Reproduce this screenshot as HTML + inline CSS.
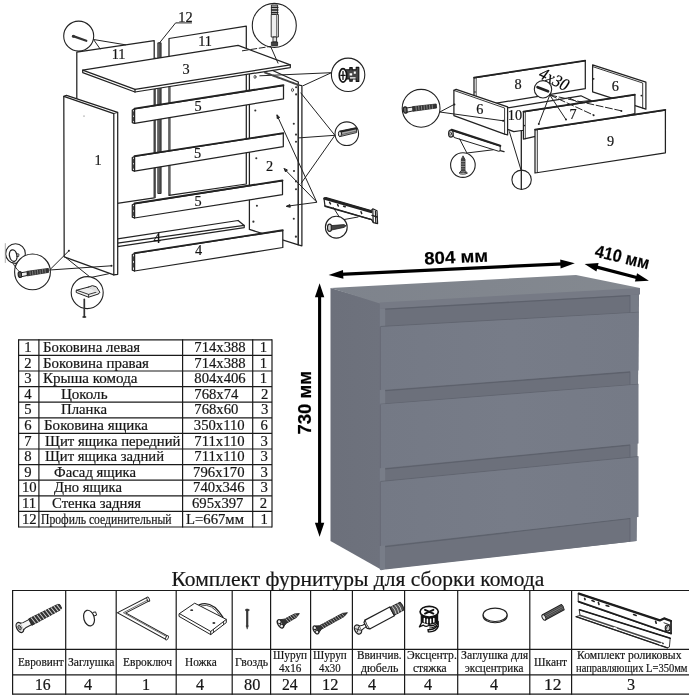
<!DOCTYPE html>
<html><head><meta charset="utf-8">
<style>
html,body{margin:0;padding:0;background:#fff;}
body{width:689px;height:700px;position:relative;overflow:hidden;font-family:"Liberation Serif",serif;color:#151515;}
#art{position:absolute;left:0;top:0;width:689px;height:700px;}
#tx{position:absolute;left:0;top:0;width:689px;height:700px;will-change:transform;transform:translateZ(0);}
.t{position:absolute;white-space:nowrap;line-height:1;transform-origin:0 0;-webkit-text-stroke:0.2px #151515;}
</style></head><body>
<svg id="art" width="689" height="700" viewBox="0 0 689 700">
<g id="ex1" stroke="#222" stroke-width="1.25" fill="#fff" stroke-linejoin="round" stroke-linecap="round">
<!-- back panels 11 -->
<polygon points="76.8,52.1 154.2,40.6 154.2,197.9 76.8,209.4"/>
<line x1="155.4" y1="58" x2="155.4" y2="197.7" stroke-width="0.8"/>
<polygon points="169,38.5 246.3,26.1 246.3,184 169,195.3"/>
<line x1="170.2" y1="62" x2="170.2" y2="195" stroke-width="0.7"/>
<!-- profile 12 -->
<rect x="158.2" y="42.8" width="2.9" height="150.7" fill="#555" stroke-width="0.9"/>
<!-- side panel 2 -->
<polygon points="249.4,60 298.3,82 298.3,244.8 249.4,229.4"/>
<polygon points="298.3,85 301.9,85.6 301.9,245.8 298.3,244.8"/>
<!-- inner plinth 4 -->
<polygon points="117.5,238.8 238.1,220.5 244.2,225.4 244.2,227.6 117.5,246.6"/>
<line x1="117.5" y1="243.1" x2="244.2" y2="225.4"/>
<!-- planks 5 -->
<g>
<polygon points="134.5,109 283.5,85.6 283.5,98.9 134.5,123.3"/>
<polygon points="132.3,110 134.5,109 134.5,123.3 132.3,122.6"/>
<line x1="134.5" y1="108.6" x2="283.5" y2="85.2" stroke-width="1.8"/>
<polygon points="134.5,156.5 283.3,133.5 283.3,146.6 134.5,171.1"/>
<polygon points="132.3,157.5 134.5,156.5 134.5,171.1 132.3,170.3"/>
<line x1="134.5" y1="156.1" x2="283.3" y2="133.1" stroke-width="1.8"/>
<polygon points="134.5,203.8 282.5,180.8 282.5,194.6 134.5,218"/>
<polygon points="132.3,204.8 134.5,203.8 134.5,218 132.3,217.2"/>
<line x1="134.5" y1="203.4" x2="282.5" y2="180.4" stroke-width="1.8"/>
<polygon points="134.5,253.5 282.8,230.6 282.8,247.5 134.5,271"/>
<polygon points="132.3,254.5 134.5,253.5 134.5,271 132.3,270.2"/>
<line x1="134.5" y1="253.1" x2="282.8" y2="230.2" stroke-width="1.8"/>
</g>
<!-- top 3 -->
<polygon points="82.7,70.2 238.1,45.4 290.3,64.9 290.3,67.6 135,92 82.7,72.6"/>
<polyline points="82.7,70.2 135,89.3 290.3,64.9" fill="none"/>
<line x1="135" y1="89.3" x2="135" y2="92"/>
<!-- side panel 1 -->
<polygon points="63.8,96.4 66.5,95.3 117.7,112.4 117.7,274.3 113.8,274.9 64.2,256.8"/>
<polyline points="63.8,96.4 113.8,113.6 113.8,274.9" fill="none"/>
<line x1="113.8" y1="113.6" x2="117.7" y2="112.4" stroke-width="0.8"/>
</g>
<g id="ex1c" stroke="#222" stroke-width="1.0" fill="none" stroke-linecap="round" stroke-linejoin="round">
<!-- nail callout -->
<circle cx="78.7" cy="36.1" r="15" fill="#fff" stroke-width="1.1"/>
<line x1="73.2" y1="36.1" x2="86.3" y2="40.8" stroke-width="2.2" stroke="#333"/>
<circle cx="73.4" cy="36.2" r="1.5" fill="#333" stroke="none"/>
<polyline points="125.5,44.8 93.5,39.5 100.1,48.9"/>
<!-- 12 leader -->
<polyline points="191.5,22.9 175.6,22.9 159.6,42.8"/>
<!-- dowel bolt callout -->
<circle cx="274.3" cy="25.4" r="22" fill="#fff" stroke-width="1.1"/>
<g stroke-width="0.9">
<rect x="271.8" y="5" width="5.8" height="9.5" fill="#bbb"/>
<line x1="271.5" y1="7.4" x2="277.9" y2="7.4" stroke-width="1.3"/>
<line x1="271.5" y1="10" x2="277.9" y2="10" stroke-width="1.3"/>
<line x1="271.5" y1="12.6" x2="277.9" y2="12.6" stroke-width="1.3"/>
<rect x="271.6" y="14.5" width="6.8" height="22.5" fill="#eee"/>
<line x1="276.6" y1="15" x2="276.6" y2="36.5" stroke="#777" stroke-width="1.2"/>
<rect x="273.4" y="37" width="3.2" height="5" fill="#ddd"/>
<rect x="271.8" y="42" width="5.8" height="3.6" fill="#444"/>
</g>
<line x1="242.4" y1="50.8" x2="270.7" y2="46.4" stroke-dasharray="6 2.5"/>
<line x1="270.7" y1="46.6" x2="278" y2="63.1"/>
<!-- eccentric callout -->
<circle cx="348.1" cy="74.8" r="16.7" fill="#fff" stroke-width="1.1"/>
<polyline points="259.8,75.8 331.4,72.7 303.1,85.7"/>
<g stroke-width="0.9">
<path d="M346.2 69.8h3.6v-2.2h2.4v2.2h4v-2.4h2.6v14h-2.6v-2.4h-4v2.2h-2.4v-2.2h-3.6" fill="#444" stroke="#111" stroke-width="1.1"/>
<path d="M349.6 73.2h2.6v2.2h-2.6zM353.8 71.6h2v2.2h-2zM350 77.2h5.6v1.4h-5.6z" fill="#fff" stroke="none"/>
<ellipse cx="343" cy="75.4" rx="3.7" ry="6.7" fill="#fff" stroke="#111" stroke-width="1.7"/>
<path d="M340.9 75.4h4.2M343 71.4v8" stroke="#111" stroke-width="1.3"/>
</g>
<!-- small dowel callout -->
<circle cx="346.8" cy="133.7" r="11.8" fill="#fff" stroke-width="1.1"/>
<polyline points="300.9,93 334.9,135.3 298.7,137.9"/>
<line x1="334.9" y1="135.3" x2="301.3" y2="183.1"/>
<g>
<path d="M340 131 L356.5 127.6 L356.5 132.6 L340 136.6 Z" fill="#aaa" stroke-width="0.9"/>
<ellipse cx="340" cy="133.8" rx="1.6" ry="2.8" fill="#ddd"/>
<line x1="341.2" y1="131.6" x2="356.5" y2="128.4" stroke="#222" stroke-width="1.8"/>
<line x1="341.8" y1="134.6" x2="356.3" y2="131.2" stroke="#555" stroke-width="0.8"/>
</g>
<!-- arrows to panel 2 -->
<polyline points="277,115.2 316.7,202 284.3,168.9"/>
<line x1="316.7" y1="202.3" x2="287" y2="206.2"/>
<path d="M277,115.2 l0.2,3.4 l2.2,-1 z M284.3,168.9 l1.2,3 l1.7,-1.7 z M286.6,206.2 l3.3,-1.6 l0.3,2.3 z" fill="#262626"/>
<!-- rail -->
<g>
<path d="M324 198.4 L326 197.6 L371 210.6 L372.8 208.8 L377 210.8 L377.6 223.6 L373.4 222.6 L371.6 219.6 L325 206.4 Z" fill="#fff" stroke-width="1.2"/>
<path d="M324.6 198.6 L371 211.8" stroke-width="2.6" stroke="#222"/>
<path d="M325 205.8 L371.6 219.6" stroke-width="1.4"/>
<path d="M372.8 209.4 L373.2 222.2 M375.4 211 L375.8 223" stroke-width="1.2"/>
<path d="M329.6 202.3l0.9 1.6M337.6 204.6l0.7 1.4M343.6 206.2l1.6 0.6M361 211.8l0.7 1.8" stroke-width="1.5"/>
<path d="M372 215.4l5.2 1.6" stroke-width="1.5"/>
</g>
<!-- screw callout -->
<circle cx="336.3" cy="227.2" r="10.9" fill="#fff" stroke-width="1.1"/>
<line x1="339.2" y1="216.8" x2="333.4" y2="207.6"/>
<line x1="344.3" y1="219.5" x2="358" y2="217"/>
<g>
<ellipse cx="329.6" cy="227.8" rx="2.1" ry="3.6" fill="#ccc" stroke-width="1.2"/>
<path d="M331.5 225.6 L344 224.6 L346 225.8 L344 227.4 L331.6 230 Z" fill="#444" stroke-width="0.8"/>
</g>
<!-- euro screw callouts -->
<circle cx="15.5" cy="253.6" r="9.8" fill="#fff" stroke-width="1.1"/>
<line x1="5.3" y1="243.6" x2="5.3" y2="262.5" stroke="#999" stroke-width="0.8"/>
<ellipse cx="13.2" cy="255.6" rx="3.7" ry="5.8" stroke-width="1.3" transform="rotate(-12 13.2 255.6)"/>
<path d="M16.8 253.6l2.2 0.6l-0.4 2.4l-1.8 -0.2" stroke-width="0.9"/>
<circle cx="32.5" cy="271.9" r="17.9" fill="#fff" stroke-width="1.1"/>
<path d="M12.6 262.6 Q17.5 271.5 21.6 273.2" stroke-width="0.9"/>
<g>
<ellipse cx="20" cy="274.6" rx="1.8" ry="2.9" fill="#555" stroke-width="1.2" transform="rotate(-8 20 274.6)"/>
<path d="M21.8 272.6 L27.4 271.7 L27.6 275.4 L22 276.6 Z" fill="#eee" stroke-width="1"/>
<path d="M27.4 271.3 L48.4 268.4 L48.6 272.4 L27.6 275.8 Z" fill="#333" stroke-width="0.8"/>
<path d="M30 271.5l0.3 3.4M32.5 271.1l0.3 3.4M35 270.8l0.3 3.4M37.5 270.4l0.3 3.4M40 270.1l0.3 3.4M42.5 269.7l0.3 3.4M45 269.4l0.3 3.4" stroke="#aaa" stroke-width="0.6"/>
</g>
<polyline points="68.9,250.8 49.6,270 111.3,265.8"/>
<circle cx="68.9" cy="250.8" r="1" fill="#262626" stroke="none"/>
<circle cx="111.5" cy="265.8" r="1" fill="#262626" stroke="none"/>
<!-- foot callout -->
<polyline points="66,257.7 90.6,277.5 108.5,273.8"/>
<circle cx="87.2" cy="292.6" r="16" fill="#fff" stroke-width="1.1"/>
<g>
<path d="M76.6 290.2 L88.6 287 L98.4 291.6 L98.4 294 L88.6 297.2 L76.6 292.6 Z" fill="#eee" stroke-width="1"/>
<path d="M76.6 290.2 L88.6 294.4 L98.4 291.6 M88.6 294.4 V297.2" stroke-width="0.9"/>
<path d="M88 287.2 Q92.6 284.2 96.4 286.8 L100 292.4 L98.4 293.8" stroke-width="1" fill="#ddd"/>
<line x1="84.3" y1="299.4" x2="84.3" y2="316.6" stroke-width="1.7" stroke="#333"/>
<line x1="83" y1="317" x2="85.6" y2="317" stroke-width="1.4"/>
</g>
<!-- holes panel 2 -->
<g fill="#333" stroke="none">
<ellipse cx="255" cy="76.9" rx="1" ry="1.6" fill="none" stroke="#333" stroke-width="0.8"/>
<ellipse cx="292.5" cy="90" rx="1" ry="1.6" fill="none" stroke="#333" stroke-width="0.8"/>
<circle cx="296.1" cy="87.2" r="1.05"/><circle cx="296.1" cy="94.4" r="1.05"/>
<circle cx="255.3" cy="110.5" r="1.05"/><circle cx="256.3" cy="158.3" r="1.05"/>
<circle cx="293.8" cy="123.8" r="1.05"/><circle cx="296" cy="134.6" r="1.05"/><circle cx="296" cy="141.7" r="1.05"/>
<circle cx="294" cy="171" r="1.05"/><circle cx="296" cy="181.4" r="1.05"/><circle cx="296" cy="189.2" r="1.05"/>
<circle cx="256.9" cy="205.7" r="1.05"/><circle cx="253.4" cy="221.7" r="1.1"/>
<circle cx="293.8" cy="218.8" r="1.05"/><circle cx="295.9" cy="236.7" r="1.1"/>
<circle cx="84" cy="116" r="0.5"/>
</g>
<!-- panel 2 top hatch -->
<line x1="265" y1="72.6" x2="298.6" y2="85" stroke-width="2" stroke="#444" stroke-dasharray="3 1.2"/>
<!-- plank end slots -->
<g stroke-width="1.4" stroke="#444">
<path d="M133.4 112v3M133.4 117.5v3M133.4 159.5v3M133.4 165v3M133.4 206.8v3M133.4 212.3v3M133.4 257v3.4M133.4 263.5v3.4"/>
</g>
</g>

<g id="ex2" stroke="#222" stroke-width="1.25" fill="#fff" stroke-linejoin="round" stroke-linecap="round">
<!-- back 8 -->
<polygon points="474,77.8 585.3,60.8 585.3,88.7 474,106.8"/>
<line x1="476.2" y1="77.6" x2="476.2" y2="97" stroke-width="0.8"/>
<line x1="474" y1="77.6" x2="585.3" y2="60.5" stroke-width="1.6"/>
<circle cx="475" cy="92" r="0.8" fill="#222" stroke="none"/>
<!-- right side 6 -->
<polygon points="592.6,64.8 645.9,82.2 645.9,109.2 592.6,91.8"/>
<polyline points="592.6,66.6 642.7,83 642.7,108.2" fill="none" stroke-width="0.9"/>
<circle cx="593.6" cy="78.8" r="0.9" fill="#222" stroke="none"/>
<circle cx="641.4" cy="95.6" r="0.9" fill="#222" stroke="none"/>
<!-- bottom 10 -->
<polygon points="496,109.8 580.9,95.8 640,124 521.9,130.5 513.8,131.7 507.4,129.3"/>
<polyline points="568.7,97.6 577.4,102 590.5,100.4" fill="none" stroke-width="0.9"/>
<!-- left side 6 -->
<polygon points="453.9,90.4 456.2,89.3 507.6,106.8 507.6,134.9 504.6,134.2 453.9,115.7"/>
<polyline points="453.9,90.4 504.6,108 504.6,134.2" fill="none" stroke-width="0.9"/>
<!-- inner front 7 -->
<polygon points="523.4,111.9 634.9,94.9 634.9,113.6 523.4,139.2"/>
<line x1="525.3" y1="112" x2="525.3" y2="138.8" stroke-width="0.8"/>
<line x1="523.4" y1="111.7" x2="634.9" y2="94.7" stroke-width="1.7"/>
<circle cx="524.3" cy="125.6" r="0.8" fill="#222" stroke="none"/>
<!-- facade 9 -->
<polygon points="535,129.9 665.4,110.1 665.4,152.8 535,173"/>
<line x1="537.3" y1="129.8" x2="537.3" y2="172.6" stroke-width="0.9"/>
<line x1="535" y1="129.6" x2="665.4" y2="109.8" stroke-width="1.7"/>
</g>
<g id="ex2c" stroke="#222" stroke-width="1.0" fill="none" stroke-linecap="round" stroke-linejoin="round">
<!-- euro screw callout -->
<circle cx="421.1" cy="108.3" r="18.9" fill="#fff" stroke-width="1.1"/>
<g>
<ellipse cx="405.3" cy="110" rx="2" ry="3.2" fill="#666" stroke-width="1.2" transform="rotate(-8 405.3 110)"/>
<path d="M407.2 107.9 L413 107 L413.3 110.8 L407.5 112.1 Z" fill="#eee" stroke-width="1"/>
<path d="M413 106.6 L436.2 104 L436.6 108 L413.3 111.2 Z" fill="#333" stroke-width="0.8"/>
<path d="M416 106.6l0.3 3.6M418.7 106.3l0.3 3.6M421.4 106l0.3 3.6M424.1 105.7l0.3 3.6M426.8 105.4l0.3 3.6M429.5 105.1l0.3 3.6M432.2 104.8l0.3 3.6" stroke="#bbb" stroke-width="0.6"/>
</g>
<polyline points="454.2,104.4 439.8,112 503.2,120.8"/>
<circle cx="454.4" cy="104.4" r="1" fill="#222" stroke="none"/>
<circle cx="503.2" cy="120.8" r="1" fill="#222" stroke="none"/>
<!-- rail -->
<g>
<path d="M451.4 130.2 L500.2 146 L500.2 150.8 L498.8 151.3 L454.5 137.6 Z" fill="#fff" stroke-width="1"/>
<path d="M451.6 129.9 L500.2 145.8" stroke-width="2.2" stroke="#222"/>
<path d="M500.2 150.6 L504 151.6" stroke-width="1.4"/>
<ellipse cx="450.9" cy="133.7" rx="2.3" ry="3.5" fill="#ddd" stroke-width="1.2"/>
<ellipse cx="450.7" cy="133.7" rx="0.9" ry="1.5" fill="#fff" stroke-width="0.8"/>
</g>
<!-- screw callout -->
<circle cx="462.9" cy="165.1" r="12.3" fill="#fff" stroke-width="1.1"/>
<polyline points="459.6,138.9 466.9,153 493,149.8"/>
<g>
<path d="M463.2 156.2 L465 159.5 L465 170.4 L461.4 170.4 L461.4 159.5 Z" fill="#444" stroke-width="0.8"/>
<path d="M461 161.5h4.4M461 164h4.4M461 166.5h4.4M461 169h4.4" stroke="#bbb" stroke-width="0.6"/>
<path d="M461.4 170.4 L459.4 172.8 L467 172.8 L465 170.4 Z" fill="#888" stroke-width="0.8"/>
<ellipse cx="463.2" cy="173.2" rx="3.8" ry="1" fill="#ccc" stroke-width="0.8"/>
</g>
<!-- bottom nail callout -->
<circle cx="521.6" cy="179.8" r="9.7" fill="#fff" stroke-width="1.1"/>
<line x1="521.3" y1="130.6" x2="521.3" y2="189" stroke-width="1.3"/>
<line x1="509.4" y1="131.7" x2="521.3" y2="170.9"/>
<!-- 4x30 callout -->
<circle cx="543" cy="89.3" r="8.7" fill="#fff" stroke-width="1.1"/>
<line x1="537.6" y1="87.2" x2="548" y2="91.2" stroke-width="2.8" stroke="#222"/>
<line x1="549.8" y1="95" x2="538.8" y2="123.6"/>
<line x1="549.8" y1="95" x2="565.8" y2="119.3"/>
<line x1="549.8" y1="95" x2="593.4" y2="115" stroke-dasharray="7 2.5"/>
<line x1="549.8" y1="95" x2="621.2" y2="110.8" stroke-dasharray="7 2.5"/>
<g fill="#222" stroke="none">
<circle cx="538.8" cy="123.9" r="1"/><circle cx="566" cy="119.6" r="1"/><circle cx="593.6" cy="115.2" r="1"/><circle cx="621.4" cy="111" r="1"/>
</g>
</g>

<g id="dresser">
<defs>
<linearGradient id="gd" x1="0" y1="0" x2="1" y2="0"><stop offset="0" stop-color="#747985"/><stop offset="0.5" stop-color="#777c88"/><stop offset="1" stop-color="#757a86"/></linearGradient>
<linearGradient id="gs" x1="0" y1="0" x2="1" y2="0"><stop offset="0" stop-color="#6c707b"/><stop offset="1" stop-color="#6e727d"/></linearGradient>
<linearGradient id="gt" x1="0" y1="0" x2="1" y2="0"><stop offset="0" stop-color="#7e838c"/><stop offset="1" stop-color="#848990"/></linearGradient>
</defs>
<polygon points="330.5,288 381,302.5 381,569.5 330.5,541" fill="url(#gs)"/>
<polygon points="380,305 639,291 636.5,541 380,569.5" fill="#6c707b"/>
<polygon points="379.8,309 385.2,308.7 385.2,569.6 381,570.2 379.8,569.5" fill="#787d88"/>
<polygon points="630,295 638.5,294.6 636.5,541 630,541.6" fill="#777c87"/>
<polygon points="385.2,546 630,517.6 630,541.8 385.2,569.6" fill="#6e727d"/>
<polygon points="330.5,288 576,275 640,288 640,289 380,303.5" fill="url(#gt)"/>
<polygon points="379.8,302.5 640,288 640,294.6 379.8,309" fill="#767a85"/>
<g stroke="#5b5f6a" stroke-width="1.3" fill="none" opacity="0.85">
<path d="M385.2 309.2 L630 295.6"/>
<path d="M385.2 390.6 L630 372"/>
<path d="M385.2 468.8 L630 445"/>
<path d="M385.2 546.6 L630 518.4"/>
</g>
<g stroke="#5f636e" stroke-width="1.1" fill="none" opacity="0.8">
<path d="M380.3 326.6 L638.5 312.2"/>
<path d="M380.3 404.2 L638.5 384.2"/>
<path d="M380.3 481.6 L638.5 456.6"/>
<path d="M630 295 V312.8 M630 371.6 V385 M630 444.6 V457.6 M630 518 V541.4" stroke-width="1"/>
</g>
<polygon points="380.3,327 638.5,312.6 638.5,370.6 380.3,390" fill="url(#gd)"/>
<polygon points="380.3,404.6 638.5,384.6 638.5,443.5 380.3,468.2" fill="url(#gd)"/>
<polygon points="380.3,482 638.5,457 638.5,517 380.3,546" fill="url(#gd)"/>
<path d="M380.3 327 V390 M380.3 404.6 V468.2 M380.3 482 V546" stroke="#636772" stroke-width="0.9" fill="none"/>
</g>
<g id="dims" stroke="#000" fill="#000">
<line x1="319.6" y1="294" x2="319.6" y2="526" stroke-width="3.1"/>
<polygon points="319.6,283.3 314.9,297.2 324.3,297.2" stroke="none"/>
<polygon points="319.6,536.7 314.9,522.8 324.3,522.8" stroke="none"/>
<line x1="340" y1="274.3" x2="563" y2="263.8" stroke-width="3.3"/>
<polygon points="328.6,274.9 343.0,270.0 343.4,278.8" stroke="none"/>
<polygon points="574.8,263.2 560.2,259.6 560.6,268.4" stroke="none"/>
<line x1="594" y1="266.4" x2="639.5" y2="278.2" stroke-width="3.2"/>
<polygon points="584.6,264 598.6,263 596.4,271.4" stroke="none"/>
<polygon points="648.9,280.7 634.9,281.6 637.1,273.2" stroke="none"/>
</g>

<g id="tl"><line x1="18.6" y1="339.8" x2="272.0" y2="339.8" stroke="#1a1a1a" stroke-width="1.2"/><line x1="18.6" y1="355.40000000000003" x2="272.0" y2="355.40000000000003" stroke="#1a1a1a" stroke-width="1.2"/><line x1="18.6" y1="371.0" x2="272.0" y2="371.0" stroke="#1a1a1a" stroke-width="1.2"/><line x1="18.6" y1="386.6" x2="272.0" y2="386.6" stroke="#1a1a1a" stroke-width="1.2"/><line x1="18.6" y1="402.2" x2="272.0" y2="402.2" stroke="#1a1a1a" stroke-width="1.2"/><line x1="18.6" y1="417.8" x2="272.0" y2="417.8" stroke="#1a1a1a" stroke-width="1.2"/><line x1="18.6" y1="433.4" x2="272.0" y2="433.4" stroke="#1a1a1a" stroke-width="1.2"/><line x1="18.6" y1="449.0" x2="272.0" y2="449.0" stroke="#1a1a1a" stroke-width="1.2"/><line x1="18.6" y1="464.6" x2="272.0" y2="464.6" stroke="#1a1a1a" stroke-width="1.2"/><line x1="18.6" y1="480.20000000000005" x2="272.0" y2="480.20000000000005" stroke="#1a1a1a" stroke-width="1.2"/><line x1="18.6" y1="495.8" x2="272.0" y2="495.8" stroke="#1a1a1a" stroke-width="1.2"/><line x1="18.6" y1="511.4" x2="272.0" y2="511.4" stroke="#1a1a1a" stroke-width="1.2"/><line x1="18.6" y1="527.0" x2="272.0" y2="527.0" stroke="#1a1a1a" stroke-width="1.2"/><line x1="18.6" y1="339.2" x2="18.6" y2="527.6" stroke="#1a1a1a" stroke-width="1.2"/><line x1="38.9" y1="339.2" x2="38.9" y2="527.6" stroke="#1a1a1a" stroke-width="1.2"/><line x1="182.6" y1="339.2" x2="182.6" y2="527.6" stroke="#1a1a1a" stroke-width="1.2"/><line x1="252.7" y1="339.2" x2="252.7" y2="527.6" stroke="#1a1a1a" stroke-width="1.2"/><line x1="272.0" y1="339.2" x2="272.0" y2="527.6" stroke="#1a1a1a" stroke-width="1.2"/><line x1="12.6" y1="590.5" x2="689" y2="590.5" stroke="#1a1a1a" stroke-width="1.2"/><line x1="12.6" y1="649.3" x2="689" y2="649.3" stroke="#1a1a1a" stroke-width="1.2"/><line x1="12.6" y1="674.9" x2="689" y2="674.9" stroke="#1a1a1a" stroke-width="1.2"/><line x1="12.6" y1="694.2" x2="689" y2="694.2" stroke="#1a1a1a" stroke-width="1.2"/><line x1="12.6" y1="589.9" x2="12.6" y2="694.8000000000001" stroke="#1a1a1a" stroke-width="1.2"/><line x1="65.7" y1="589.9" x2="65.7" y2="694.8000000000001" stroke="#1a1a1a" stroke-width="1.2"/><line x1="116.2" y1="589.9" x2="116.2" y2="694.8000000000001" stroke="#1a1a1a" stroke-width="1.2"/><line x1="176.2" y1="589.9" x2="176.2" y2="694.8000000000001" stroke="#1a1a1a" stroke-width="1.2"/><line x1="232.2" y1="589.9" x2="232.2" y2="694.8000000000001" stroke="#1a1a1a" stroke-width="1.2"/><line x1="270.6" y1="589.9" x2="270.6" y2="694.8000000000001" stroke="#1a1a1a" stroke-width="1.2"/><line x1="310.6" y1="589.9" x2="310.6" y2="694.8000000000001" stroke="#1a1a1a" stroke-width="1.2"/><line x1="352.4" y1="589.9" x2="352.4" y2="694.8000000000001" stroke="#1a1a1a" stroke-width="1.2"/><line x1="404.6" y1="589.9" x2="404.6" y2="694.8000000000001" stroke="#1a1a1a" stroke-width="1.2"/><line x1="457.7" y1="589.9" x2="457.7" y2="694.8000000000001" stroke="#1a1a1a" stroke-width="1.2"/><line x1="529.8" y1="589.9" x2="529.8" y2="694.8000000000001" stroke="#1a1a1a" stroke-width="1.2"/><line x1="571.6" y1="589.9" x2="571.6" y2="694.8000000000001" stroke="#1a1a1a" stroke-width="1.2"/></g>
<g id="icons" stroke="#222" stroke-width="0.9" fill="none" stroke-linecap="round" stroke-linejoin="round">
<!-- euro screw -->
<g transform="translate(19.9 627.5) rotate(-27.5)">
<ellipse cx="0" cy="0" rx="3.2" ry="5.4" fill="#ddd" stroke-width="1.3"/>
<ellipse cx="-0.3" cy="0" rx="1.4" ry="2.4" fill="#999" stroke-width="0.7"/>
<path d="M2.4 -3.6 L5 -2.9 L12 -2.9 L12 2.9 L5 2.9 L2.4 3.6" fill="#f4f4f4" stroke-width="1"/>
<path d="M12 -3.6 L44 -3.1 L46 -2 L46 2 L44 3.1 L12 3.6 Z" fill="#333" stroke-width="0.8"/>
<path d="M14.5 -3.4l1.3 6.8M17.7 -3.4l1.3 6.8M20.9 -3.4l1.3 6.8M24.1 -3.3l1.3 6.6M27.3 -3.3l1.3 6.6M30.5 -3.2l1.3 6.4M33.7 -3.2l1.3 6.4M36.9 -3.1l1.3 6.2M40.1 -3.1l1.3 6.2M43.2 -3l1.2 6" stroke="#ddd" stroke-width="0.9"/>
</g>
<!-- plug -->
<g>
<path d="M93 612.4 l2.6 -0.5 l1 3.2 l-2.4 0.8" fill="#fff" stroke-width="1"/>
<ellipse cx="89" cy="618.1" rx="5.2" ry="8" fill="#fff" stroke-width="1.2" transform="rotate(-16 89 618.1)"/>
</g>
<!-- allen key -->
<g stroke-linejoin="miter">
<polyline points="147.9,599.3 121.6,612.9 166.6,637.6" stroke="#222" stroke-width="4.9" stroke-linecap="butt" stroke-miterlimit="6"/>
<polyline points="148.2,599.15 121.6,612.9 166.9,637.75" stroke="#fff" stroke-width="3" stroke-linecap="butt" stroke-miterlimit="6"/>
<polyline points="147.9,599.9 123.4,612.7 166.4,636.5" stroke="#333" stroke-width="0.7"/>
<ellipse cx="148.2" cy="599.2" rx="1.1" ry="2.3" transform="rotate(-27 148.2 599.2)" fill="#fff" stroke-width="0.9"/>
<ellipse cx="167" cy="637.8" rx="1.2" ry="2.3" transform="rotate(29 167 637.8)" fill="#fff" stroke-width="0.9"/>
</g>
<!-- foot -->
<g stroke-width="1">
<path d="M199.1 604.9 Q212 599.6 223 617.4" fill="#fff" stroke-width="1.3"/>
<path d="M201.5 605.8 Q211.8 602.6 220.6 616.4" stroke-width="0.8"/>
<path d="M179.4 613.6 L194.7 603.2 L226.3 619.4 L226.3 622.6 L210.7 634.6 L179.4 616.6 Z" fill="#fff"/>
<path d="M179.4 613.6 L210.7 631.4 L226.3 619.4 M210.7 631.4 V634.6"/>
<path d="M213.5 629.4v3M223.5 621.6v3" stroke-width="0.8"/>
<ellipse cx="191.7" cy="610.2" rx="1.5" ry="0.9" fill="#333" stroke="none"/>
<ellipse cx="213.9" cy="623" rx="1.5" ry="0.9" fill="#333" stroke="none"/>
</g>
<!-- nail -->
<g>
<line x1="247.2" y1="610.4" x2="247.2" y2="626.2" stroke="#3a3a3a" stroke-width="2.2"/>
<path d="M246.2 626 L247.2 629.2 L248.2 626 Z" fill="#3a3a3a" stroke="#3a3a3a" stroke-width="0.5"/>
<ellipse cx="247.2" cy="610" rx="1.9" ry="1" fill="#333" stroke="#333" stroke-width="0.6"/>
</g>
<!-- screw 4x16 -->
<g transform="translate(280.5 623.8) rotate(-28.4)">
<ellipse cx="0" cy="0" rx="2.6" ry="4.6" fill="#eee" stroke-width="1.3"/>
<path d="M-1.6 -1.6l3 3.2M-1.6 1.8l3 -3.4" stroke-width="0.9"/>
<path d="M2 -3.6 L5.5 -2.3 L17 -2 L21.4 0 L17 2 L5.5 2.3 L2 3.6 Z" fill="#333" stroke-width="0.8"/>
<path d="M7 -2.2l1 4.4M9.6 -2.2l1 4.4M12.2 -2.1l1 4.2M14.8 -2l1 4M17.2 -1.6l0.8 3.2" stroke="#ccc" stroke-width="0.7"/>
</g>
<!-- screw 4x30 -->
<g transform="translate(316 629.9) rotate(-28.7)">
<ellipse cx="0" cy="0" rx="2.4" ry="4.4" fill="#eee" stroke-width="1.3"/>
<path d="M-1.5 -1.6l2.8 3.2M-1.5 1.8l2.8 -3.4" stroke-width="0.9"/>
<path d="M1.8 -3.5 L5 -2 L31 -1.8 L35.8 0 L31 1.8 L5 2 L1.8 3.5 Z" fill="#333" stroke-width="0.8"/>
<path d="M7 -1.9l0.9 3.8M9.6 -1.9l0.9 3.8M12.2 -1.9l0.9 3.8M14.8 -1.9l0.9 3.8M17.4 -1.9l0.9 3.8M20 -1.9l0.9 3.8M22.6 -1.9l0.9 3.8M25.2 -1.9l0.9 3.8M27.8 -1.8l0.9 3.6M30.4 -1.7l0.8 3.4" stroke="#ccc" stroke-width="0.65"/>
</g>
<!-- dowel bolt -->
<g transform="translate(358 629.5) rotate(-28)">
<ellipse cx="0" cy="0" rx="3.2" ry="4.8" fill="#ddd" stroke-width="1.3"/>
<path d="M-1.8 -1.8l3.6 3.6M-1.8 1.8l3.6 -3.6" stroke-width="0.8"/>
<path d="M3 -2.4 L6 -1.6 L8.6 -1.6 L8.6 1.6 L6 1.6 L3 2.4" fill="#fff" stroke-width="1"/>
<path d="M8.6 -3.4 L10.6 -5 L38.6 -5 L38.6 5 L10.6 5 L8.6 3.4 Z" fill="#fff" stroke-width="1.2"/>
<path d="M10.6 -5 Q9.4 0 10.6 5" stroke-width="0.8"/>
<path d="M38.6 -4.4 L50 -4.2 Q51.6 0 50 4.2 L38.6 4.4 Z" fill="#555" stroke-width="1"/>
<path d="M41 -4.4 Q42.4 0 41 4.4M44 -4.3 Q45.4 0 44 4.3M47 -4.2 Q48.4 0 47 4.2" stroke="#ddd" stroke-width="0.8"/>
</g>
<!-- eccentric -->
<g stroke="#111" stroke-width="1.2">
<path d="M421.3 614 V622.4 Q429 626.4 437.6 622 V614 Z" fill="#111"/>
<path d="M424.4 618.6v3.4M427.4 619.2v3.6M430.6 619.2v3.6M433.8 618.4v3.6" stroke="#fff" stroke-width="1.5"/>
<path d="M421.6 622.6 L419.4 626.8 L423.4 625.2 Q427 627.6 429 624.8" fill="#fff" stroke-width="1.3"/>
<path d="M429 625.6 Q434.6 626.6 438.2 621.6 V626.6 Q436 632.4 428.4 631.8 L428 629.8 Q433.6 629.8 436.8 626.2" fill="#fff" stroke-width="1.4"/>
<path d="M429.6 628 Q434 628.2 437.6 624.4" stroke-width="1.1" fill="none"/>
<ellipse cx="429.2" cy="611.7" rx="9.1" ry="5.4" fill="#fff" stroke-width="1.7"/>
<path d="M425 609.8 L433.4 613.6 M433.4 609.8 L425 613.6" stroke-width="1.9" stroke-linecap="round"/>
</g>
<!-- cap -->
<g>
<ellipse cx="495.1" cy="615.9" rx="12" ry="6.8" fill="#fff" stroke-width="1.1"/>
<ellipse cx="495.1" cy="614.8" rx="12" ry="6.7" fill="#fff" stroke-width="1.1"/>
</g>
<!-- dowel -->
<g transform="translate(543.9 617.4) rotate(-28.6)">
<path d="M0 -3 L21.5 -3 Q22.8 0 21.5 3 L0 3 Z" fill="#777" stroke-width="1"/>
<path d="M1 -1.4H21.6M1 0.4H21.8M1 1.9H21.4" stroke="#333" stroke-width="0.7"/>
<ellipse cx="0" cy="0" rx="1.6" ry="3" fill="#eee" stroke-width="1"/>
</g>
<!-- rails -->
<g>
<path d="M578.6 593.4 L659.8 620.2 L664.1 618.2 L671 620.8 L671.2 633.8 L663.3 631.4 L578.6 602 Z" fill="#fff" stroke-width="0.9"/>
<path d="M578.8 593.6 L659.8 620.4 L664.1 618.4 L671 621" stroke="#1c1c1c" stroke-width="2.2"/>
<path d="M578.6 601.6 L663.3 631 L671 633.4" stroke="#1c1c1c" stroke-width="1.8"/>
<path d="M671 621 V633.6" stroke-width="1.6"/>
<path d="M584.6 598.4l0.5 1.2M592 600.6l2.2 0.8M598.4 602.4l0.6 2M606.2 605.4l2.6 0.9M633.6 614.6l2.6 0.9M655.6 621.2l0.6 2" stroke-width="1.6"/>
<ellipse cx="667.6" cy="628" rx="2.4" ry="3" fill="#ccc" stroke-width="1.1"/>
<path d="M664 622.8l6 2.2M665 631l3 -6" stroke-width="0.9"/>
<path d="M579.6 609.8 L670.2 638.2 L669.4 647 L667.4 647.8 L576 616.6 L579.6 615.6 Z" fill="#fff" stroke-width="0.9"/>
<path d="M579.6 609.8 L670.2 638.2" stroke="#1c1c1c" stroke-width="1.7"/>
<path d="M576 616.6 L667.4 647.8" stroke-width="1.3"/>
<path d="M580.4 615.4 L663.2 643.4" stroke-width="1.6" stroke="#444"/>
<path d="M614 627.6l2.4 0.8M660 644.6l1.6 -1.4" stroke="#fff" stroke-width="1.2"/>
</g>
</g>

</svg>
<div id="tx">
<div class="t" style="left:24.20px;top:340.09px;font-size:14.7px;">1</div>
<div class="t" style="left:42.90px;top:340.09px;font-size:14.7px;transform:scaleX(1.0100);">Боковина левая</div>
<div class="t" style="left:194.30px;top:340.09px;font-size:14.7px;">714x388</div>
<div class="t" style="left:259.80px;top:340.09px;font-size:14.7px;">1</div>
<div class="t" style="left:24.20px;top:355.69px;font-size:14.7px;">2</div>
<div class="t" style="left:42.90px;top:355.69px;font-size:14.7px;transform:scaleX(1.0182);">Боковина правая</div>
<div class="t" style="left:194.30px;top:355.69px;font-size:14.7px;">714x388</div>
<div class="t" style="left:259.80px;top:355.69px;font-size:14.7px;">1</div>
<div class="t" style="left:24.20px;top:371.29px;font-size:14.7px;">3</div>
<div class="t" style="left:43.30px;top:371.29px;font-size:14.7px;transform:scaleX(1.0253);">Крыша комода</div>
<div class="t" style="left:194.30px;top:371.29px;font-size:14.7px;">804x406</div>
<div class="t" style="left:259.80px;top:371.29px;font-size:14.7px;">1</div>
<div class="t" style="left:24.20px;top:386.89px;font-size:14.7px;">4</div>
<div class="t" style="left:60.80px;top:386.89px;font-size:14.7px;transform:scaleX(1.0259);">Цоколь</div>
<div class="t" style="left:194.30px;top:386.89px;font-size:14.7px;">768x74</div>
<div class="t" style="left:261.00px;top:386.89px;font-size:14.7px;">2</div>
<div class="t" style="left:24.20px;top:402.49px;font-size:14.7px;">5</div>
<div class="t" style="left:60.80px;top:402.49px;font-size:14.7px;transform:scaleX(1.0055);">Планка</div>
<div class="t" style="left:194.30px;top:402.49px;font-size:14.7px;">768x60</div>
<div class="t" style="left:261.00px;top:402.49px;font-size:14.7px;">3</div>
<div class="t" style="left:24.20px;top:418.09px;font-size:14.7px;">6</div>
<div class="t" style="left:43.50px;top:418.09px;font-size:14.7px;transform:scaleX(1.0224);">Боковина ящика</div>
<div class="t" style="left:193.80px;top:418.09px;font-size:14.7px;">350x110</div>
<div class="t" style="left:260.60px;top:418.09px;font-size:14.7px;">6</div>
<div class="t" style="left:24.20px;top:433.69px;font-size:14.7px;">7</div>
<div class="t" style="left:44.50px;top:433.69px;font-size:14.7px;transform:scaleX(1.0044);">Щит ящика передний</div>
<div class="t" style="left:194.30px;top:433.69px;font-size:14.7px;">711x110</div>
<div class="t" style="left:260.60px;top:433.69px;font-size:14.7px;">3</div>
<div class="t" style="left:24.20px;top:449.29px;font-size:14.7px;">8</div>
<div class="t" style="left:44.50px;top:449.29px;font-size:14.7px;transform:scaleX(0.9986);">Щит ящика задний</div>
<div class="t" style="left:194.30px;top:449.29px;font-size:14.7px;">711x110</div>
<div class="t" style="left:260.60px;top:449.29px;font-size:14.7px;">3</div>
<div class="t" style="left:24.20px;top:464.89px;font-size:14.7px;">9</div>
<div class="t" style="left:54.30px;top:464.89px;font-size:14.7px;transform:scaleX(1.0019);">Фасад ящика</div>
<div class="t" style="left:193.10px;top:464.89px;font-size:14.7px;">796x170</div>
<div class="t" style="left:260.60px;top:464.89px;font-size:14.7px;">3</div>
<div class="t" style="left:22.00px;top:480.49px;font-size:14.7px;">10</div>
<div class="t" style="left:54.30px;top:480.49px;font-size:14.7px;transform:scaleX(0.9961);">Дно ящика</div>
<div class="t" style="left:193.10px;top:480.49px;font-size:14.7px;">740x346</div>
<div class="t" style="left:260.60px;top:480.49px;font-size:14.7px;">3</div>
<div class="t" style="left:22.00px;top:496.09px;font-size:14.7px;">11</div>
<div class="t" style="left:51.70px;top:496.09px;font-size:14.7px;transform:scaleX(1.0037);">Стенка задняя</div>
<div class="t" style="left:192.00px;top:496.09px;font-size:14.7px;">695x397</div>
<div class="t" style="left:259.80px;top:496.09px;font-size:14.7px;">2</div>
<div class="t" style="left:22.00px;top:511.69px;font-size:14.7px;">12</div>
<div class="t" style="left:40.50px;top:511.69px;font-size:14.7px;transform:scaleX(0.7940);">Профиль соединительный</div>
<div class="t" style="left:185.60px;top:511.69px;font-size:14.7px;transform:scaleX(1.0019);">L=667мм</div>
<div class="t" style="left:260.40px;top:511.69px;font-size:14.7px;">1</div>
<div class="t" style="left:171.60px;top:568.99px;font-size:21.5px;transform:scaleX(1.0000);">Комплект фурнитуры для сборки комода</div>
<div class="t" style="left:17.70px;top:655.85px;font-size:12.6px;transform:scaleX(0.8931);">Евровинт</div>
<div class="t" style="left:67.80px;top:655.85px;font-size:12.6px;transform:scaleX(0.9237);">Заглушка</div>
<div class="t" style="left:122.80px;top:655.85px;font-size:12.6px;transform:scaleX(0.9090);">Евроключ</div>
<div class="t" style="left:184.60px;top:655.85px;font-size:12.6px;transform:scaleX(0.8981);">Ножка</div>
<div class="t" style="left:234.60px;top:655.85px;font-size:12.6px;transform:scaleX(0.9231);">Гвоздь</div>
<div class="t" style="left:273.00px;top:649.15px;font-size:12.6px;transform:scaleX(0.8907);">Шуруп</div>
<div class="t" style="left:278.50px;top:662.45px;font-size:12.6px;transform:scaleX(0.8854);">4x16</div>
<div class="t" style="left:313.30px;top:649.15px;font-size:12.6px;transform:scaleX(0.8828);">Шуруп</div>
<div class="t" style="left:318.60px;top:662.45px;font-size:12.6px;transform:scaleX(0.8576);">4x30</div>
<div class="t" style="left:356.50px;top:649.15px;font-size:12.6px;transform:scaleX(0.8900);">Ввинчив.</div>
<div class="t" style="left:361.00px;top:661.85px;font-size:12.6px;transform:scaleX(0.9398);">дюбель</div>
<div class="t" style="left:407.00px;top:649.15px;font-size:12.6px;transform:scaleX(0.9241);">Эксцентр.</div>
<div class="t" style="left:413.30px;top:661.85px;font-size:12.6px;transform:scaleX(0.9120);">стяжка</div>
<div class="t" style="left:461.20px;top:649.15px;font-size:12.6px;transform:scaleX(0.9352);">Заглушка для</div>
<div class="t" style="left:465.40px;top:661.85px;font-size:12.6px;transform:scaleX(0.8851);">эксцентрика</div>
<div class="t" style="left:533.60px;top:655.85px;font-size:12.6px;transform:scaleX(0.9076);">Шкант</div>
<div class="t" style="left:577.20px;top:649.15px;font-size:12.6px;transform:scaleX(0.9252);">Комплект роликовых</div>
<div class="t" style="left:576.10px;top:661.85px;font-size:12.6px;transform:scaleX(0.8348);">направляющих L=350мм</div>
<div class="t" style="left:35.05px;top:677.23px;font-size:16.2px;transform:scaleX(0.9699);">16</div>
<div class="t" style="left:84.45px;top:677.23px;font-size:16.2px;transform:scaleX(1.0008);">4</div>
<div class="t" style="left:141.95px;top:677.23px;font-size:16.2px;transform:scaleX(1.0008);">1</div>
<div class="t" style="left:195.55px;top:677.23px;font-size:16.2px;transform:scaleX(1.0008);">4</div>
<div class="t" style="left:243.75px;top:677.23px;font-size:16.2px;transform:scaleX(1.0069);">80</div>
<div class="t" style="left:281.65px;top:677.23px;font-size:16.2px;transform:scaleX(0.9699);">24</div>
<div class="t" style="left:322.00px;top:677.23px;font-size:16.2px;transform:scaleX(1.0131);">12</div>
<div class="t" style="left:368.45px;top:677.23px;font-size:16.2px;transform:scaleX(1.0008);">4</div>
<div class="t" style="left:423.95px;top:677.23px;font-size:16.2px;transform:scaleX(1.0008);">4</div>
<div class="t" style="left:490.25px;top:677.23px;font-size:16.2px;transform:scaleX(1.0008);">4</div>
<div class="t" style="left:543.75px;top:677.23px;font-size:16.2px;transform:scaleX(1.0811);">12</div>
<div class="t" style="left:627.15px;top:677.23px;font-size:16.2px;transform:scaleX(1.0008);">3</div>
<div class="t" style="left:111.75px;top:47.04px;font-size:14.3px;">11</div>
<div class="t" style="left:198.15px;top:34.14px;font-size:14.3px;">11</div>
<div class="t" style="left:178.25px;top:9.84px;font-size:14.3px;">12</div>
<div class="t" style="left:182.62px;top:61.64px;font-size:14.3px;">3</div>
<div class="t" style="left:194.62px;top:99.24px;font-size:14.3px;">5</div>
<div class="t" style="left:194.03px;top:145.74px;font-size:14.3px;">5</div>
<div class="t" style="left:194.62px;top:194.04px;font-size:14.3px;">5</div>
<div class="t" style="left:153.62px;top:230.64px;font-size:14.3px;">4</div>
<div class="t" style="left:195.12px;top:243.24px;font-size:14.3px;">4</div>
<div class="t" style="left:94.42px;top:152.94px;font-size:14.3px;">1</div>
<div class="t" style="left:266.12px;top:158.74px;font-size:14.3px;">2</div>
<div class="t" style="left:476.32px;top:101.54px;font-size:14.3px;">6</div>
<div class="t" style="left:514.52px;top:77.34px;font-size:14.3px;">8</div>
<div class="t" style="left:507.85px;top:107.74px;font-size:14.3px;">10</div>
<div class="t" style="left:611.82px;top:79.14px;font-size:14.3px;">6</div>
<div class="t" style="left:569.42px;top:107.24px;font-size:14.3px;">7</div>
<div class="t" style="left:607.12px;top:133.94px;font-size:14.3px;">9</div>
<div class="t" style="left:537.30px;top:70.85px;font-size:17.5px;font-family:'Liberation Serif',serif;font-weight:400;font-style:italic;transform-origin:50% 50%;transform:rotate(27deg) scaleX(0.9143);color:#000;">4x30</div>
<div class="t" style="left:425.76px;top:249.40px;font-size:17.6px;font-family:'Liberation Sans',sans-serif;font-weight:700;transform-origin:50% 50%;transform:rotate(-2.6deg) scaleX(1.0617);color:#000;">804 мм</div>
<div class="t" style="left:591.66px;top:249.40px;font-size:17.6px;font-family:'Liberation Sans',sans-serif;font-weight:700;transform-origin:50% 50%;transform:rotate(13.5deg) scaleX(0.9207);color:#000;">410 мм</div>
<div class="t" style="left:276.46px;top:394.20px;font-size:17.6px;font-family:'Liberation Sans',sans-serif;font-weight:700;transform-origin:50% 50%;transform:rotate(-90deg) scaleX(1.0517);color:#000;">730 мм</div>
</div>
</body></html>
